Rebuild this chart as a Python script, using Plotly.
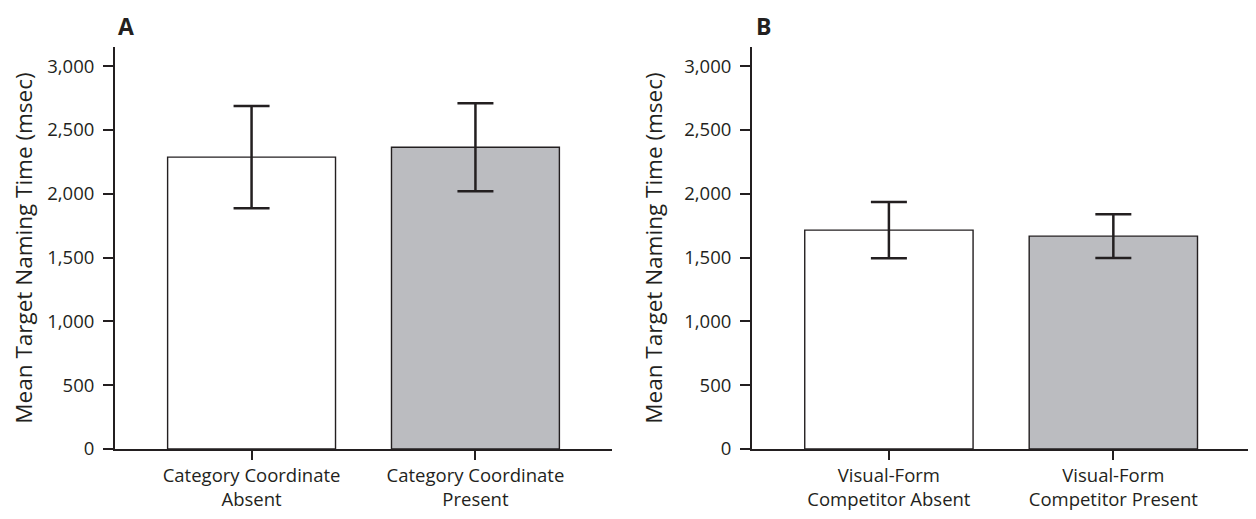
import plotly.graph_objects as go

# Data
cats_a = ["Category Coordinate<br>Absent", "Category Coordinate<br>Present"]
means_a = [2287, 2365]
err_a = [400, 345]

cats_b = ["Visual-Form<br>Competitor Absent", "Visual-Form<br>Competitor Present"]
means_b = [1715, 1668]
err_b = [220, 172]

bar_colors = ["#ffffff", "#bbbcc0"]
ink = "#231f20"
font_family = "'Open Sans', sans-serif"

y_ticks = [0, 500, 1000, 1500, 2000, 2500, 3000]
y_ticktext = ["0", "500", "1,000", "1,500", "2,000", "2,500", "3,000"]

# page body has an 8px margin; figure sized to fit inside the window
W, H = 1240, 503
OFF = 8

def px_x(x):
    return (x - OFF) / W

def px_y(y):
    return 1 - (y - OFF) / H

fig = go.Figure()

for cats, means, errs, xa, ya in [(cats_a, means_a, err_a, "x", "y"),
                                   (cats_b, means_b, err_b, "x2", "y2")]:
    fig.add_trace(go.Bar(
        x=cats, y=means, xaxis=xa, yaxis=ya,
        width=0.75,
        marker=dict(color=bar_colors, line=dict(color=ink, width=1.4)),
        error_y=dict(type="data", array=errs, visible=True,
                     color=ink, thickness=2.5, width=18),
        showlegend=False,
    ))

axis_common_x = dict(
    type="category",
    showline=True, linecolor=ink, linewidth=2,
    ticks="outside", ticklen=9, tickwidth=2, tickcolor=ink,
    showgrid=False, zeroline=False, automargin=False,
    tickfont=dict(family=font_family, size=18.5, color=ink),
)
axis_common_y = dict(
    range=[0, 3150],
    showline=True, linecolor=ink, linewidth=2,
    ticks="outside", ticklen=10, tickwidth=2, tickcolor=ink,
    showgrid=False, zeroline=False, automargin=False,
    tickvals=y_ticks, ticktext=y_ticktext,
    tickfont=dict(family=font_family, size=18.5, color=ink),
    ticklabelstandoff=5,
    title=dict(text="Mean Target Naming Time (msec)",
               font=dict(family=font_family, size=22.5, color=ink),
               standoff=15),
)

ydom = [px_y(449), px_y(47)]

fig.update_layout(
    width=W, height=H,
    margin=dict(l=0, r=0, t=0, b=0),
    paper_bgcolor="white", plot_bgcolor="white",
    xaxis=dict(domain=[px_x(115), px_x(612)], anchor="y",
               range=[-0.61, 1.61], **axis_common_x),
    yaxis=dict(domain=ydom, anchor="x", **axis_common_y),
    xaxis2=dict(domain=[px_x(752), 1.0], anchor="y2",
                range=[-0.61, 1.60], **axis_common_x),
    yaxis2=dict(domain=ydom, anchor="x2", **axis_common_y),
    annotations=[
        dict(text="<b>A</b>", x=px_x(126), y=px_y(26), xref="paper", yref="paper",
             showarrow=False, xanchor="center", yanchor="middle",
             font=dict(family=font_family, size=23, color=ink)),
        dict(text="<b>B</b>", x=px_x(763), y=px_y(26), xref="paper", yref="paper",
             showarrow=False, xanchor="center", yanchor="middle",
             font=dict(family=font_family, size=23, color=ink)),
    ],
)

fig.write_html("out.html")
